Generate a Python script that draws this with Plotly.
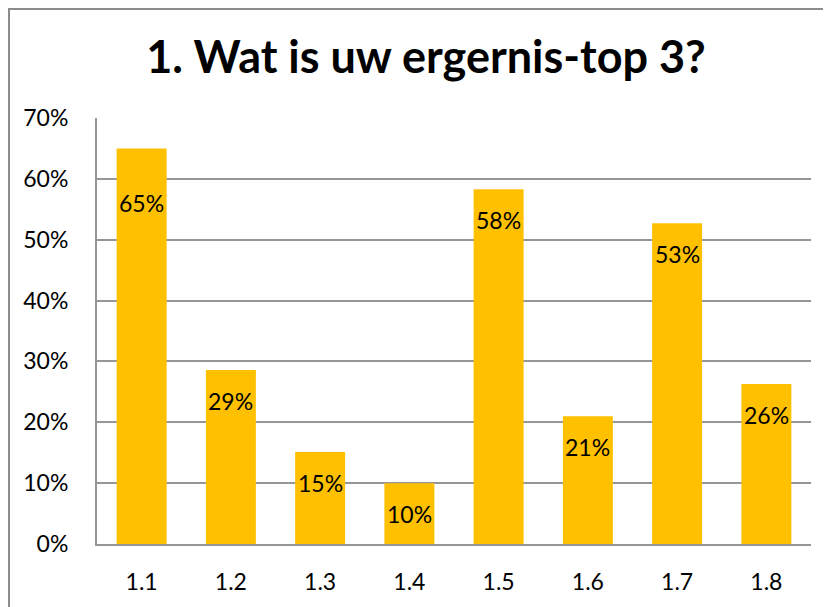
import plotly.graph_objects as go

categories = ["1.1", "1.2", "1.3", "1.4", "1.5", "1.6", "1.7", "1.8"]
values = [0.65, 0.286, 0.151, 0.10, 0.583, 0.21, 0.527, 0.263]
y_ticks = [0, 0.1, 0.2, 0.3, 0.4, 0.5, 0.6, 0.7]
y_tick_labels = ["0%", "10%", "20%", "30%", "40%", "50%", "60%", "70%"]
title_text = "1. Wat is uw ergernis-top 3?"

# the page body adds an 8px offset; the figure is sized to fill the rest
OFF = 8
W, H = 831 - OFF, 607 - OFF
L, R, T, B = 97 - OFF, 20, 118 - OFF, 63
pw, ph = W - L - R, H - T - B

def px_x(x):
    return (x - L) / pw

def px_y(y):
    return (H - B - y) / ph

FONT = "Lato"

fig = go.Figure()
fig.add_trace(go.Bar(
    x=categories, y=values,
    marker=dict(color="#FFC000", line=dict(width=0)),
    hoverinfo="x+y",
))

# data labels placed just inside the top of each bar (category index positions)
label_shift = {0: -55}
for i, v in enumerate(values):
    fig.add_annotation(
        x=i, y=v, xref="x", yref="y",
        text=f"{round(v * 100)}%", showarrow=False,
        yanchor="middle", xanchor="center",
        yshift=label_shift.get(i, -31),
        font=dict(family=FONT, size=23, color="#000000"),
    )

fig.update_layout(
    width=W, height=H,
    margin=dict(l=L, r=R, t=T, b=B),
    paper_bgcolor="white", plot_bgcolor="white",
    bargap=0.44,
    showlegend=False,
    title=dict(text="<b>" + title_text + "</b>", x=(426 - OFF) / W, xanchor="center",
               y=1 - (57 - OFF) / H, yanchor="middle",
               font=dict(family=FONT, size=45, color="#000000")),
    xaxis=dict(type="category", showgrid=False, showline=True, linecolor="#969696", linewidth=2,
               ticks="", tickfont=dict(family=FONT, size=23, color="#000000"),
               ticklabelstandoff=16),
    yaxis=dict(range=[0, 0.7], tickvals=y_ticks, ticktext=y_tick_labels,
               showgrid=True, gridcolor="#969696", gridwidth=2,
               showline=True, linecolor="#969696", linewidth=2,
               zeroline=False, ticks="",
               tickfont=dict(family=FONT, size=23, color="#000000"),
               ticklabelstandoff=22),
)

fig.add_shape(type="line", xref="paper", yref="paper",
              x0=px_x(1), x1=px_x(1), y0=px_y(0), y1=px_y(H + 5),
              line=dict(color="#8c8c8c", width=2))
fig.add_shape(type="line", xref="paper", yref="paper",
              x0=px_x(0), x1=px_x(W + 5), y0=px_y(1), y1=px_y(1),
              line=dict(color="#8c8c8c", width=2))

fig.write_html("out.html")
